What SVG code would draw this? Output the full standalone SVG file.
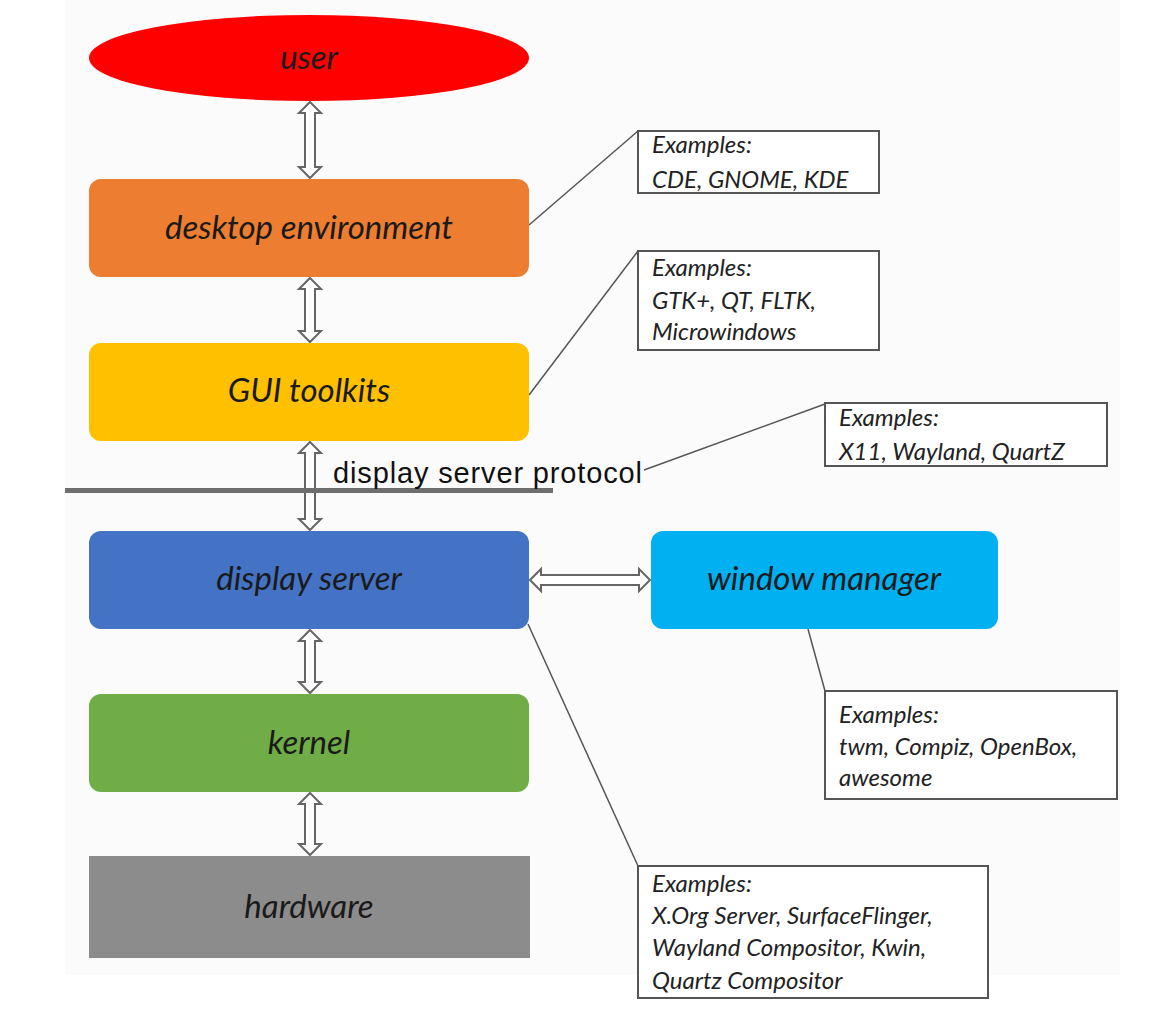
<svg xmlns="http://www.w3.org/2000/svg" width="1155" height="1030" viewBox="0 0 1155 1030">
<style>
.lbl{font-family:Lato,"Open Sans","Liberation Sans",sans-serif;font-style:italic;font-size:33px;fill:#1a1a1a;text-anchor:middle}
.ex{font-family:Lato,"Open Sans","Liberation Sans",sans-serif;font-style:italic;font-size:24px;fill:#222}
.box{fill:#fff;stroke:#555;stroke-width:2}
.lead{stroke:#555;stroke-width:1.5;fill:none}
.arr{fill:#fff;stroke:#666;stroke-width:2;stroke-linejoin:miter}
</style>
<rect x="0" y="0" width="1155" height="1030" fill="#fff"/>
<rect x="65" y="0" width="1055" height="975" fill="#fbfbfb"/>

<g id="connectors">
  <line class="lead" x1="529" y1="225" x2="638" y2="131"/>
  <line class="lead" x1="529" y1="395" x2="638" y2="251"/>
  <line class="lead" x1="644" y1="470" x2="825" y2="404"/>
  <line class="lead" x1="808" y1="629" x2="825" y2="691"/>
  <line class="lead" x1="528" y1="624" x2="638" y2="866"/>
  <path class="arr" d="M310,102 L321,113 L315,113 L315,167 L321,167 L310,178 L299,167 L305,167 L305,113 L299,113 Z"/>
  <path class="arr" d="M310,278 L321,289 L315,289 L315,331 L321,331 L310,342 L299,331 L305,331 L305,289 L299,289 Z"/>
  <path class="arr" d="M310,442 L321,453 L315,453 L315,519 L321,519 L310,530 L299,519 L305,519 L305,453 L299,453 Z"/>
  <path class="arr" d="M310,630 L321,641 L315,641 L315,682 L321,682 L310,693 L299,682 L305,682 L305,641 L299,641 Z"/>
  <path class="arr" d="M310,793 L321,804 L315,804 L315,844 L321,844 L310,855 L299,844 L305,844 L305,804 L299,804 Z"/>
  <path class="arr" d="M530,580 L541,569 L541,575 L639,575 L639,569 L650,580 L639,591 L639,585 L541,585 L541,591 Z"/>
</g>

<g id="protocol">
  <rect x="65" y="488" width="488" height="5" fill="#6e6e6e"/>
  <text x="333" y="483" font-family="'Liberation Sans',Arial,sans-serif" font-size="29" fill="#111" textLength="309" lengthAdjust="spacing">display server protocol</text>
</g>

<g id="user">
  <ellipse cx="309" cy="58" rx="220" ry="43" fill="#ff0000"/>
  <text class="lbl" x="309" y="69">user</text>
</g>
<g id="desktop">
  <rect x="89" y="179" width="440" height="98" rx="12" fill="#ed7d31"/>
  <text class="lbl" x="309" y="239">desktop environment</text>
</g>
<g id="gui">
  <rect x="89" y="343" width="440" height="98" rx="12" fill="#ffc000"/>
  <text class="lbl" x="309" y="402">GUI toolkits</text>
</g>
<g id="displayserver">
  <rect x="89" y="531" width="440" height="98" rx="12" fill="#4472c4"/>
  <text class="lbl" x="309" y="590">display server</text>
</g>
<g id="windowmanager">
  <rect x="651" y="531" width="347" height="98" rx="12" fill="#00b0f0"/>
  <text class="lbl" x="824" y="590">window manager</text>
</g>
<g id="kernel">
  <rect x="89" y="694" width="440" height="98" rx="12" fill="#70ad47"/>
  <text class="lbl" x="309" y="754">kernel</text>
</g>
<g id="hardware">
  <rect x="89" y="856" width="441" height="102" fill="#8c8c8c"/>
  <text class="lbl" x="309" y="918">hardware</text>
</g>

<g id="ex-desktop">
  <rect class="box" x="638" y="131" width="241" height="62"/>
  <text class="ex" x="652" y="153">Examples:</text>
  <text class="ex" x="652" y="188">CDE, GNOME, KDE</text>
</g>
<g id="ex-gui">
  <rect class="box" x="638" y="251" width="241" height="99"/>
  <text class="ex" x="652" y="276">Examples:</text>
  <text class="ex" x="652" y="309">GTK+, QT, FLTK,</text>
  <text class="ex" x="652" y="340">Microwindows</text>
</g>
<g id="ex-protocol">
  <rect class="box" x="825" y="403" width="282" height="63"/>
  <text class="ex" x="839" y="426">Examples:</text>
  <text class="ex" x="839" y="460">X11, Wayland, QuartZ</text>
</g>
<g id="ex-wm">
  <rect class="box" x="825" y="691" width="292" height="108"/>
  <text class="ex" x="839" y="723">Examples:</text>
  <text class="ex" x="839" y="755">twm, Compiz, OpenBox,</text>
  <text class="ex" x="839" y="786">awesome</text>
</g>
<g id="ex-ds">
  <rect class="box" x="638" y="866" width="350" height="132"/>
  <text class="ex" x="652" y="892">Examples:</text>
  <text class="ex" x="652" y="924">X.Org Server, SurfaceFlinger,</text>
  <text class="ex" x="652" y="956">Wayland Compositor, Kwin,</text>
  <text class="ex" x="652" y="989">Quartz Compositor</text>
</g>
</svg>
